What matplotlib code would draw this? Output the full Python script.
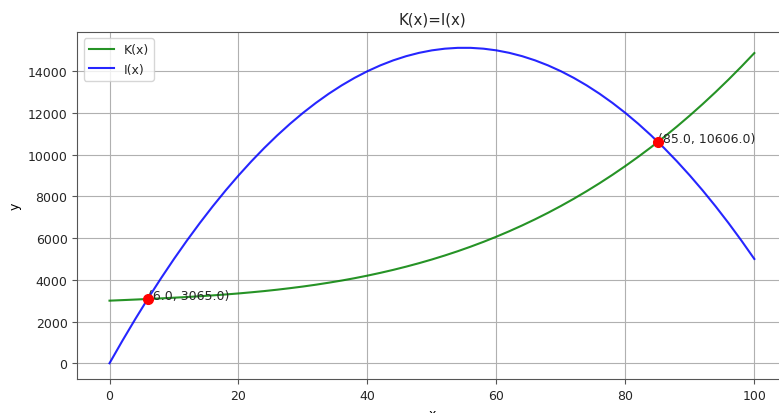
import matplotlib
matplotlib.use("Agg")
import matplotlib.pyplot as plt

# Sampled values of both functions on x = 0..100 (step 2)
x_vals = list(range(0, 101, 2))
k_vals = [3000, 3026, 3053, 3081, 3110, 3142, 3175, 3212, 3253, 3297,
          3346, 3401, 3460, 3526, 3599, 3678, 3765, 3861, 3964, 4077,
          4200, 4333, 4476, 4631, 4797, 4975, 5166, 5370, 5588, 5820,
          6067, 6329, 6607, 6901, 7211, 7539, 7885, 8249, 8631, 9033,
          9455, 9897, 10359, 10843, 11349, 11877, 12428, 13002, 13600, 14223,
          14870]
i_vals = [0, 1080, 2120, 3120, 4080, 5000, 5880, 6720, 7520, 8280,
          9000, 9680, 10320, 10920, 11480, 12000, 12480, 12920, 13320, 13680,
          14000, 14280, 14520, 14720, 14880, 15000, 15080, 15120, 15120, 15080,
          15000, 14880, 14720, 14520, 14280, 14000, 13680, 13320, 12920, 12480,
          12000, 11480, 10920, 10320, 9680, 9000, 8280, 7520, 6720, 5880,
          5000]

# Intersection points of K(x) and I(x)
cross_x = [6.0, 85.0]
cross_y = [3065.0, 10606.0]

fs = 9
plt.rcParams["font.size"] = fs
plt.rcParams["text.color"] = "#262626"
plt.rcParams["xtick.labelcolor"] = "#262626"
plt.rcParams["ytick.labelcolor"] = "#262626"

fig = plt.figure(figsize=(7.79, 4.14), dpi=100)
ax = fig.add_axes([0.0992, 0.0821, 0.9105, 0.838])
for sp in ax.spines.values():
    sp.set_color("#555555")
ax.tick_params(color="#555555")

ax.plot(x_vals, k_vals, color="green", alpha=0.85, linewidth=1.5, label="K(x)")
ax.plot(x_vals, i_vals, color="blue", alpha=0.85, linewidth=1.5, label="I(x)")

for cx, cy in zip(cross_x, cross_y):
    ax.plot(cx, cy, "o", color="red", markersize=7, zorder=5)
    ax.text(cx, cy, f"({cx}, {cy})", fontsize=fs)

ax.set_title("K(x)=I(x)")
ax.set_xlabel("x")
ax.set_ylabel("y")
ax.grid(True)
ax.legend(loc="upper left")

fig.savefig("out.png", dpi=100)
